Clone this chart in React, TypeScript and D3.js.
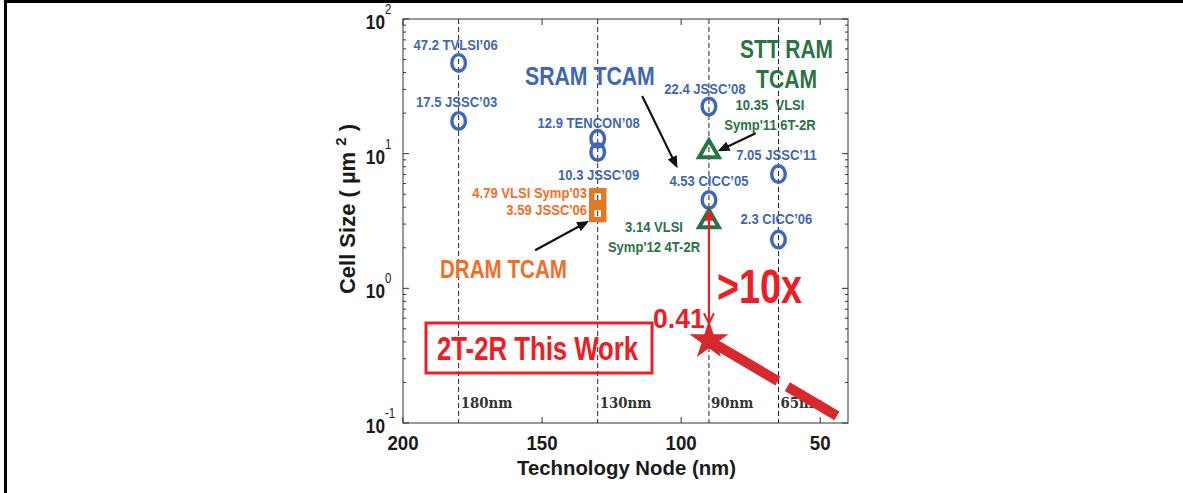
import React from "react";
import * as d3 from "d3";

// ---- data ----
const xTicks = [200, 150, 100, 50];
const yTicks = [0.1, 1, 10, 100];
const yTickExps = ["-1", "0", "1", "2"];

const nodeLines = [180, 130, 90, 65];
const nodeLabels = ["180nm", "130nm", "90nm", "65nm"];

const sramNodes = [180, 180, 130, 130, 90, 90, 65, 65];
const sramSizes = [47.2, 17.5, 12.9, 10.3, 22.4, 4.53, 7.05, 2.3];
const sramRefs = ["TVLSI\u201906", "JSSC\u201903", "TENCON\u201908", "JSSC\u201909", "JSSC\u201908", "CICC\u201905", "JSSC\u201911", "CICC\u201906"];

const dramNodes = [130, 130];
const dramSizes = [4.79, 3.59];
const dramRefs = ["VLSI Symp'03", "JSSC'06"];

const sttNodes = [90, 90];
const sttSizes = [10.35, 3.14];
const sttLines1 = ["10.35\u00a0 VLSI", "3.14 VLSI"];
const sttLines2 = ["Symp'11 6T-2R", "Symp'12 4T-2R"];

const thisNode = 90;
const thisSize = 0.41;
const trendNodes = [90, 44];
const trendSizes = [0.41, 0.113];
const gainArrow = [3.9, 0.55]; // node 90, from..to

// annotation arrows [fromNode, fromSize, toNode, toSize]
const sramArrow = [114, 26.8, 101.3, 7.8];
const sttArrow = [73.2, 14.2, 86.9, 10.4];
const dramArrow = [152.5, 1.92, 133.1, 3.16];

// ---- layout ----
const W = 1183;
const H = 493;
const PLOT = { left: 403, right: 848, top: 19, bottom: 423 };

// label offsets in px relative to the marker [dx, dy(baseline)]
const sramLabelOff = [[-3, -13], [-2, -14], [-9, -11], [1, 28], [-4, -12], [0, -14], [-2, -14], [-2, -16]];
const sttLabelPos = [[770, 110, 130], [654, 232, 252]];

const BLUE = "#3f67b5";
const GREEN = "#2a7443";
const ORANGE = "#ef6f2a";
const ORANGE_M = "#e07a24";
const RED = "#ee1c25";
const RED_D = "#d7282c";
const FONT = "'Liberation Sans', Arial, Helvetica, sans-serif";

type TProps = {
  x: number; y: number; size: number; sx?: number; anchor?: string;
  weight?: string; fill: string; children: React.ReactNode; family?: string;
};
const T = ({ x, y, size, sx = 1, anchor = "start", weight = "bold", fill, children, family = FONT }: TProps) => (
  <text
    transform={`translate(${x},${y}) scale(${sx},1)`}
    textAnchor={anchor}
    fontSize={size}
    fontWeight={weight}
    fontFamily={family}
    fill={fill}
  >
    {children}
  </text>
);

function arrowHead(x1: number, y1: number, x2: number, y2: number, len: number, half: number) {
  const a = Math.atan2(y2 - y1, x2 - x1);
  const bx = x2 - len * Math.cos(a);
  const by = y2 - len * Math.sin(a);
  const px = -Math.sin(a) * half;
  const py = Math.cos(a) * half;
  return `M${x2},${y2}L${bx + px},${by + py}L${bx - px},${by - py}Z`;
}

export default function App() {
  const x = d3.scaleLinear().domain([200, 40]).range([PLOT.left, PLOT.right]);
  const y = d3.scaleLog().domain([0.1, 100]).range([PLOT.bottom, PLOT.top]);

  const minor: number[] = [];
  [0.1, 1, 10].forEach((d) => {
    for (let k = 2; k <= 9; k++) minor.push(d * k);
  });

  const star = d3.symbol().type(d3.symbolStar).size(470)() as string;
  const tri = d3.symbol().type(d3.symbolTriangle).size(170)() as string;

  const trendLine = d3
    .line<number>()
    .x((_, i) => x(trendNodes[i]))
    .y((_, i) => y(trendSizes[i]))(trendNodes) as string;

  const blackArrow = (a: number[], key: string) => {
    const x1 = x(a[0]), y1 = y(a[1]), x2 = x(a[2]), y2 = y(a[3]);
    const ang = Math.atan2(y2 - y1, x2 - x1);
    return (
      <g key={key}>
        <line x1={x1} y1={y1} x2={x2 - 9 * Math.cos(ang)} y2={y2 - 9 * Math.sin(ang)} stroke="#111" strokeWidth={2.2} />
        <path d={arrowHead(x1, y1, x2, y2, 12, 5)} fill="#111" />
      </g>
    );
  };

  const gx = x(thisNode);
  const gTop = y(gainArrow[0]);
  const gBot = y(gainArrow[1]);

  return (
    <div style={{ position: "absolute", left: 0, top: 0 }}>
      <svg width={W} height={H} style={{ display: "block", background: "#fff" }}>
        {/* outer frame */}
        <rect x={4} y={0} width={W - 4} height={3} fill="#000" />
        <rect x={4} y={0} width={3} height={H} fill="#000" />

        {/* node dashed lines */}
        {nodeLines.map((n, i) => (
          <g key={"n" + i}>
            <line x1={x(n)} x2={x(n)} y1={PLOT.top} y2={PLOT.bottom} stroke="#222" strokeWidth={1} strokeDasharray="5,3" />
            <T x={x(n) + 2} y={408} size={15} sx={0.89} fill="#333" family="'DejaVu Serif', serif">{nodeLabels[i]}</T>
          </g>
        ))}

        {/* axes box */}
        <rect x={PLOT.left} y={PLOT.top} width={PLOT.right - PLOT.left} height={PLOT.bottom - PLOT.top} fill="none" stroke="#333" strokeWidth={1} />
        {xTicks.map((t) => (
          <g key={"xt" + t}>
            <line x1={x(t)} x2={x(t)} y1={PLOT.bottom} y2={PLOT.bottom - 6} stroke="#333" />
            <line x1={x(t)} x2={x(t)} y1={PLOT.top} y2={PLOT.top + 6} stroke="#333" />
            <T x={x(t)} y={450} size={21} sx={0.89} anchor="middle" fill="#1a1a1a">{t}</T>
          </g>
        ))}
        {yTicks.map((t, i) => (
          <g key={"yt" + t}>
            <line x1={PLOT.left} x2={PLOT.left + 6} y1={y(t)} y2={y(t)} stroke="#333" />
            <line x1={PLOT.right} x2={PLOT.right - 6} y1={y(t)} y2={y(t)} stroke="#333" />
            <T x={385} y={y(t) + 10} size={21} sx={0.82} anchor="end" fill="#1a1a1a">10</T>
            <T x={385} y={y(t) - 5} size={14} sx={0.82} weight="normal" fill="#1a1a1a">{yTickExps[i]}</T>
          </g>
        ))}
        {minor.map((t) => (
          <g key={"ym" + t}>
            <line x1={PLOT.left} x2={PLOT.left + 3} y1={y(t)} y2={y(t)} stroke="#333" />
            <line x1={PLOT.right} x2={PLOT.right - 3} y1={y(t)} y2={y(t)} stroke="#333" />
          </g>
        ))}

        {/* axis titles */}
        <T x={(PLOT.left + PLOT.right) / 2 + 1} y={475} size={21} sx={0.97} anchor="middle" fill="#1a1a1a">Technology Node (nm)</T>
        <g transform={`translate(355,${(PLOT.top + PLOT.bottom) / 2 - 12}) rotate(-90)`}>
          <text textAnchor="middle" fontFamily={FONT} fontWeight="bold" fontSize={22} fill="#1a1a1a">
            Cell Size ( {"\u00b5"}m <tspan dy={-9} fontSize={15}>2</tspan><tspan dy={9}> )</tspan>
          </text>
        </g>

        {/* trend line */}
        <path d={trendLine} stroke={RED_D} strokeWidth={10} fill="none" strokeDasharray="80 11 100" />

        {/* SRAM */}
        {sramNodes.map((n, i) => (
          <g key={"s" + i}>
            <ellipse cx={x(n)} cy={y(sramSizes[i])} rx={6.8} ry={8.3} fill="none" stroke={BLUE} strokeWidth={3.4} />
            <T x={x(n) + sramLabelOff[i][0]} y={y(sramSizes[i]) + sramLabelOff[i][1]} size={15} sx={0.87} anchor="middle" fill={BLUE}>
              {sramSizes[i] + " " + sramRefs[i]}
            </T>
          </g>
        ))}

        {/* DRAM */}
        {dramNodes.map((n, i) => (
          <g key={"d" + i}>
            <rect x={x(n) - 6} y={y(dramSizes[i]) - 6} width={12} height={12} fill="none" stroke={ORANGE_M} strokeWidth={5.5} />
            <T x={587} y={y(dramSizes[i]) + 1} size={15} sx={0.87} anchor="end" fill={ORANGE}>
              {dramSizes[i] + " " + dramRefs[i]}
            </T>
          </g>
        ))}

        {/* STT RAM */}
        {sttNodes.map((n, i) => (
          <g key={"t" + i}>
            <path d={tri} transform={`translate(${x(n)},${y(sttSizes[i])})`} fill="none" stroke={GREEN} strokeWidth={4} />
            <T x={sttLabelPos[i][0]} y={sttLabelPos[i][1]} size={15} sx={0.87} anchor="middle" fill={GREEN}>{sttLines1[i]}</T>
            <T x={sttLabelPos[i][0]} y={sttLabelPos[i][2]} size={15} sx={0.87} anchor="middle" fill={GREEN}>{sttLines2[i]}</T>
          </g>
        ))}

        {/* gain arrow */}
        <line x1={gx} x2={gx} y1={gTop + 8} y2={gBot} stroke={RED} strokeWidth={2.2} />
        <path d={arrowHead(gx, gBot, gx, gTop, 12, 4.5)} fill={RED} />
        <path d={`M${gx - 5},${gBot - 10}L${gx},${gBot}L${gx + 5},${gBot - 10}`} fill="none" stroke={RED} strokeWidth={2} />

        {/* this work */}
        <path d={star} transform={`translate(${x(thisNode)},${y(thisSize)})`} fill={RED_D} />

        {/* annotation arrows */}
        {blackArrow(sramArrow, "a1")}
        {blackArrow(sttArrow, "a2")}
        {blackArrow(dramArrow, "a3")}

        {/* group titles */}
        <T x={525} y={85} size={25} sx={0.85} fill={BLUE}>SRAM TCAM</T>
        <T x={786.5} y={58} size={25} sx={0.837} anchor="middle" fill={GREEN}>STT RAM</T>
        <T x={786.5} y={88} size={25} sx={0.845} anchor="middle" fill={GREEN}>TCAM</T>
        <T x={440} y={278} size={25} sx={0.824} fill={ORANGE}>DRAM TCAM</T>

        {/* red annotations */}
        <T x={717} y={303} size={49} sx={0.77} fill={RED}>&gt;10x</T>
        <T x={653} y={328} size={28} sx={0.95} fill={RED}>0.41</T>
        <rect x={426} y={323} width={226} height={50} fill="none" stroke={RED} strokeWidth={3} />
        <T x={437} y={360} size={34} sx={0.757} fill={RED}>2T-2R This Work</T>
      </svg>
    </div>
  );
}
